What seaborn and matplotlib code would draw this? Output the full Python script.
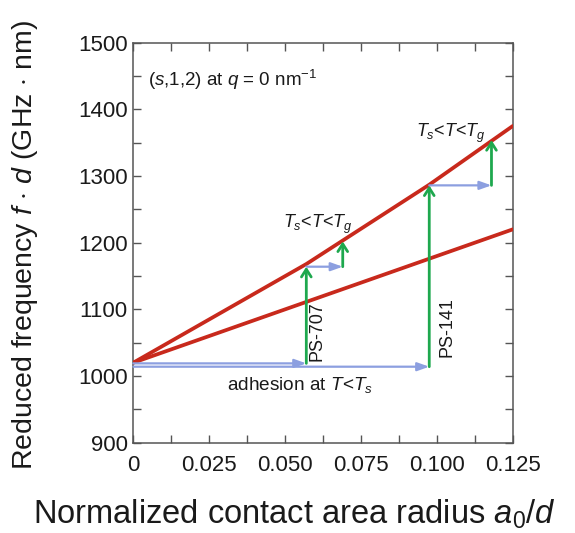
import matplotlib
matplotlib.use("Agg")
import matplotlib.pyplot as plt
from matplotlib.ticker import MultipleLocator
import seaborn as sns
import pandas as pd

# Dispersion of the (s,1,2) mode vs normalized contact radius
upper_x = [0.0, 0.057, 0.0975, 0.125]
upper_y = [1020, 1168, 1287, 1375]
lower_x = [0.0, 0.125]
lower_y = [1020, 1220]

# Contact radii of the two samples (adhesion below Ts, then growth in Ts<T<Tg)
ps707_x = [0.057, 0.069]
ps141_x = [0.0975, 0.118]
ps707_f = [1019, 1164, 1202]
ps141_f = [1014, 1286, 1354]

x_ticks = [0, 0.025, 0.050, 0.075, 0.100, 0.125]
x_tick_labels = ["0", "0.025", "0.050", "0.075", "0.100", "0.125"]
y_ticks = [900, 1000, 1100, 1200, 1300, 1400, 1500]

RED = "#c8291c"
GREEN = "#1ea84e"
BLUE = "#8c9fe0"
TEXT = "#1a1a1a"

sns.set_style("ticks")
plt.rcParams["font.family"] = ["Liberation Sans", "DejaVu Sans"]
plt.rcParams["mathtext.fontset"] = "custom"
plt.rcParams["mathtext.rm"] = "Liberation Sans"
plt.rcParams["mathtext.it"] = "Liberation Sans:italic"

fig = plt.figure(figsize=(5.75, 5.33), dpi=100)
ax = fig.add_axes([0.2318, 0.1694, 0.6599, 0.7505])

df = pd.concat([
    pd.DataFrame({"x": upper_x, "y": upper_y, "branch": "upper"}),
    pd.DataFrame({"x": lower_x, "y": lower_y, "branch": "lower"}),
])
sns.lineplot(data=df, x="x", y="y", hue="branch", palette=[RED, RED],
             linewidth=2.7, legend=False, ax=ax, zorder=3, sort=True)

blue_kw = dict(arrowstyle="-|>,head_length=0.7,head_width=0.25", color=BLUE,
               lw=1.6, shrinkA=0, shrinkB=0)
green_kw = dict(arrowstyle="->,head_length=0.55,head_width=0.35", color=GREEN,
                lw=2.0, shrinkA=0, shrinkB=0)

def arrow(x0, y0, x1, y1, kw):
    ax.annotate("", xy=(x1, y1), xytext=(x0, y0), arrowprops=kw, zorder=4)

# adhesion at T<Ts: horizontal growth of contact radius
arrow(0, ps707_f[0], ps707_x[0], ps707_f[0], blue_kw)
arrow(0, ps141_f[0], ps141_x[0], ps141_f[0], blue_kw)
# frequency jump onto the upper branch
arrow(ps707_x[0], ps707_f[0], ps707_x[0], ps707_f[1], green_kw)
arrow(ps141_x[0], ps141_f[0], ps141_x[0], ps141_f[1], green_kw)
# further growth in Ts<T<Tg
arrow(ps707_x[0], ps707_f[1], ps707_x[1], ps707_f[1], blue_kw)
arrow(ps707_x[1], ps707_f[1], ps707_x[1], ps707_f[2], green_kw)
arrow(ps141_x[0], ps141_f[1], ps141_x[1], ps141_f[1], blue_kw)
arrow(ps141_x[1], ps141_f[1], ps141_x[1], ps141_f[2], green_kw)

ax.set_xlim(0, 0.125)
ax.set_ylim(900, 1500)
ax.set_xticks(x_ticks)
ax.set_xticklabels(x_tick_labels)
ax.set_yticks(y_ticks)
ax.xaxis.set_minor_locator(MultipleLocator(0.0125))
ax.yaxis.set_minor_locator(MultipleLocator(50))
ax.tick_params(which="both", direction="in", top=True, right=True,
               color="#555555", width=1.0)
ax.tick_params(which="major", length=6, labelsize=16, labelcolor=TEXT)
ax.tick_params(which="minor", length=6)
ax.tick_params(axis="x", which="major", pad=9)
ax.tick_params(axis="y", which="major", pad=4)
for s in ax.spines.values():
    s.set_color("#555555")
    s.set_linewidth(1.1)

ax.set_xlabel(r"Normalized contact area radius $\it{a}$$_0$/$\it{d}$",
              fontsize=23.5, color=TEXT)
ax.xaxis.set_label_coords(0.425, -0.138)
ax.set_ylabel(r"Reduced frequency $\it{f}$ $\cdot$ $\it{d}$ (GHz $\cdot$ nm)",
              fontsize=20.5, color=TEXT)
ax.yaxis.set_label_coords(-0.245, 0.495)

ax.text(0.0049, 1444, r"($\it{s}$,1,2) at $\it{q}$ = 0 nm$^{-1}$",
        fontsize=13.5, ha="left", va="center", color=TEXT)
ax.text(0.0492, 1228, r"$\it{T}_s$<$\it{T}$<$\it{T}_g$",
        fontsize=13, ha="left", va="center", color=TEXT)
ax.text(0.0932, 1364, r"$\it{T}_s$<$\it{T}$<$\it{T}_g$",
        fontsize=13, ha="left", va="center", color=TEXT)
ax.text(0.0550, 986, r"adhesion at $\it{T}$<$\it{T}_s$",
        fontsize=13.7, ha="center", va="center", color=TEXT)
ax.text(0.0605, 1067, "PS-707", rotation=90, fontsize=13,
        ha="center", va="center", color=TEXT)
ax.text(0.1032, 1073, "PS-141", rotation=90, fontsize=13,
        ha="center", va="center", color=TEXT)

fig.savefig("out.png", dpi=100)
